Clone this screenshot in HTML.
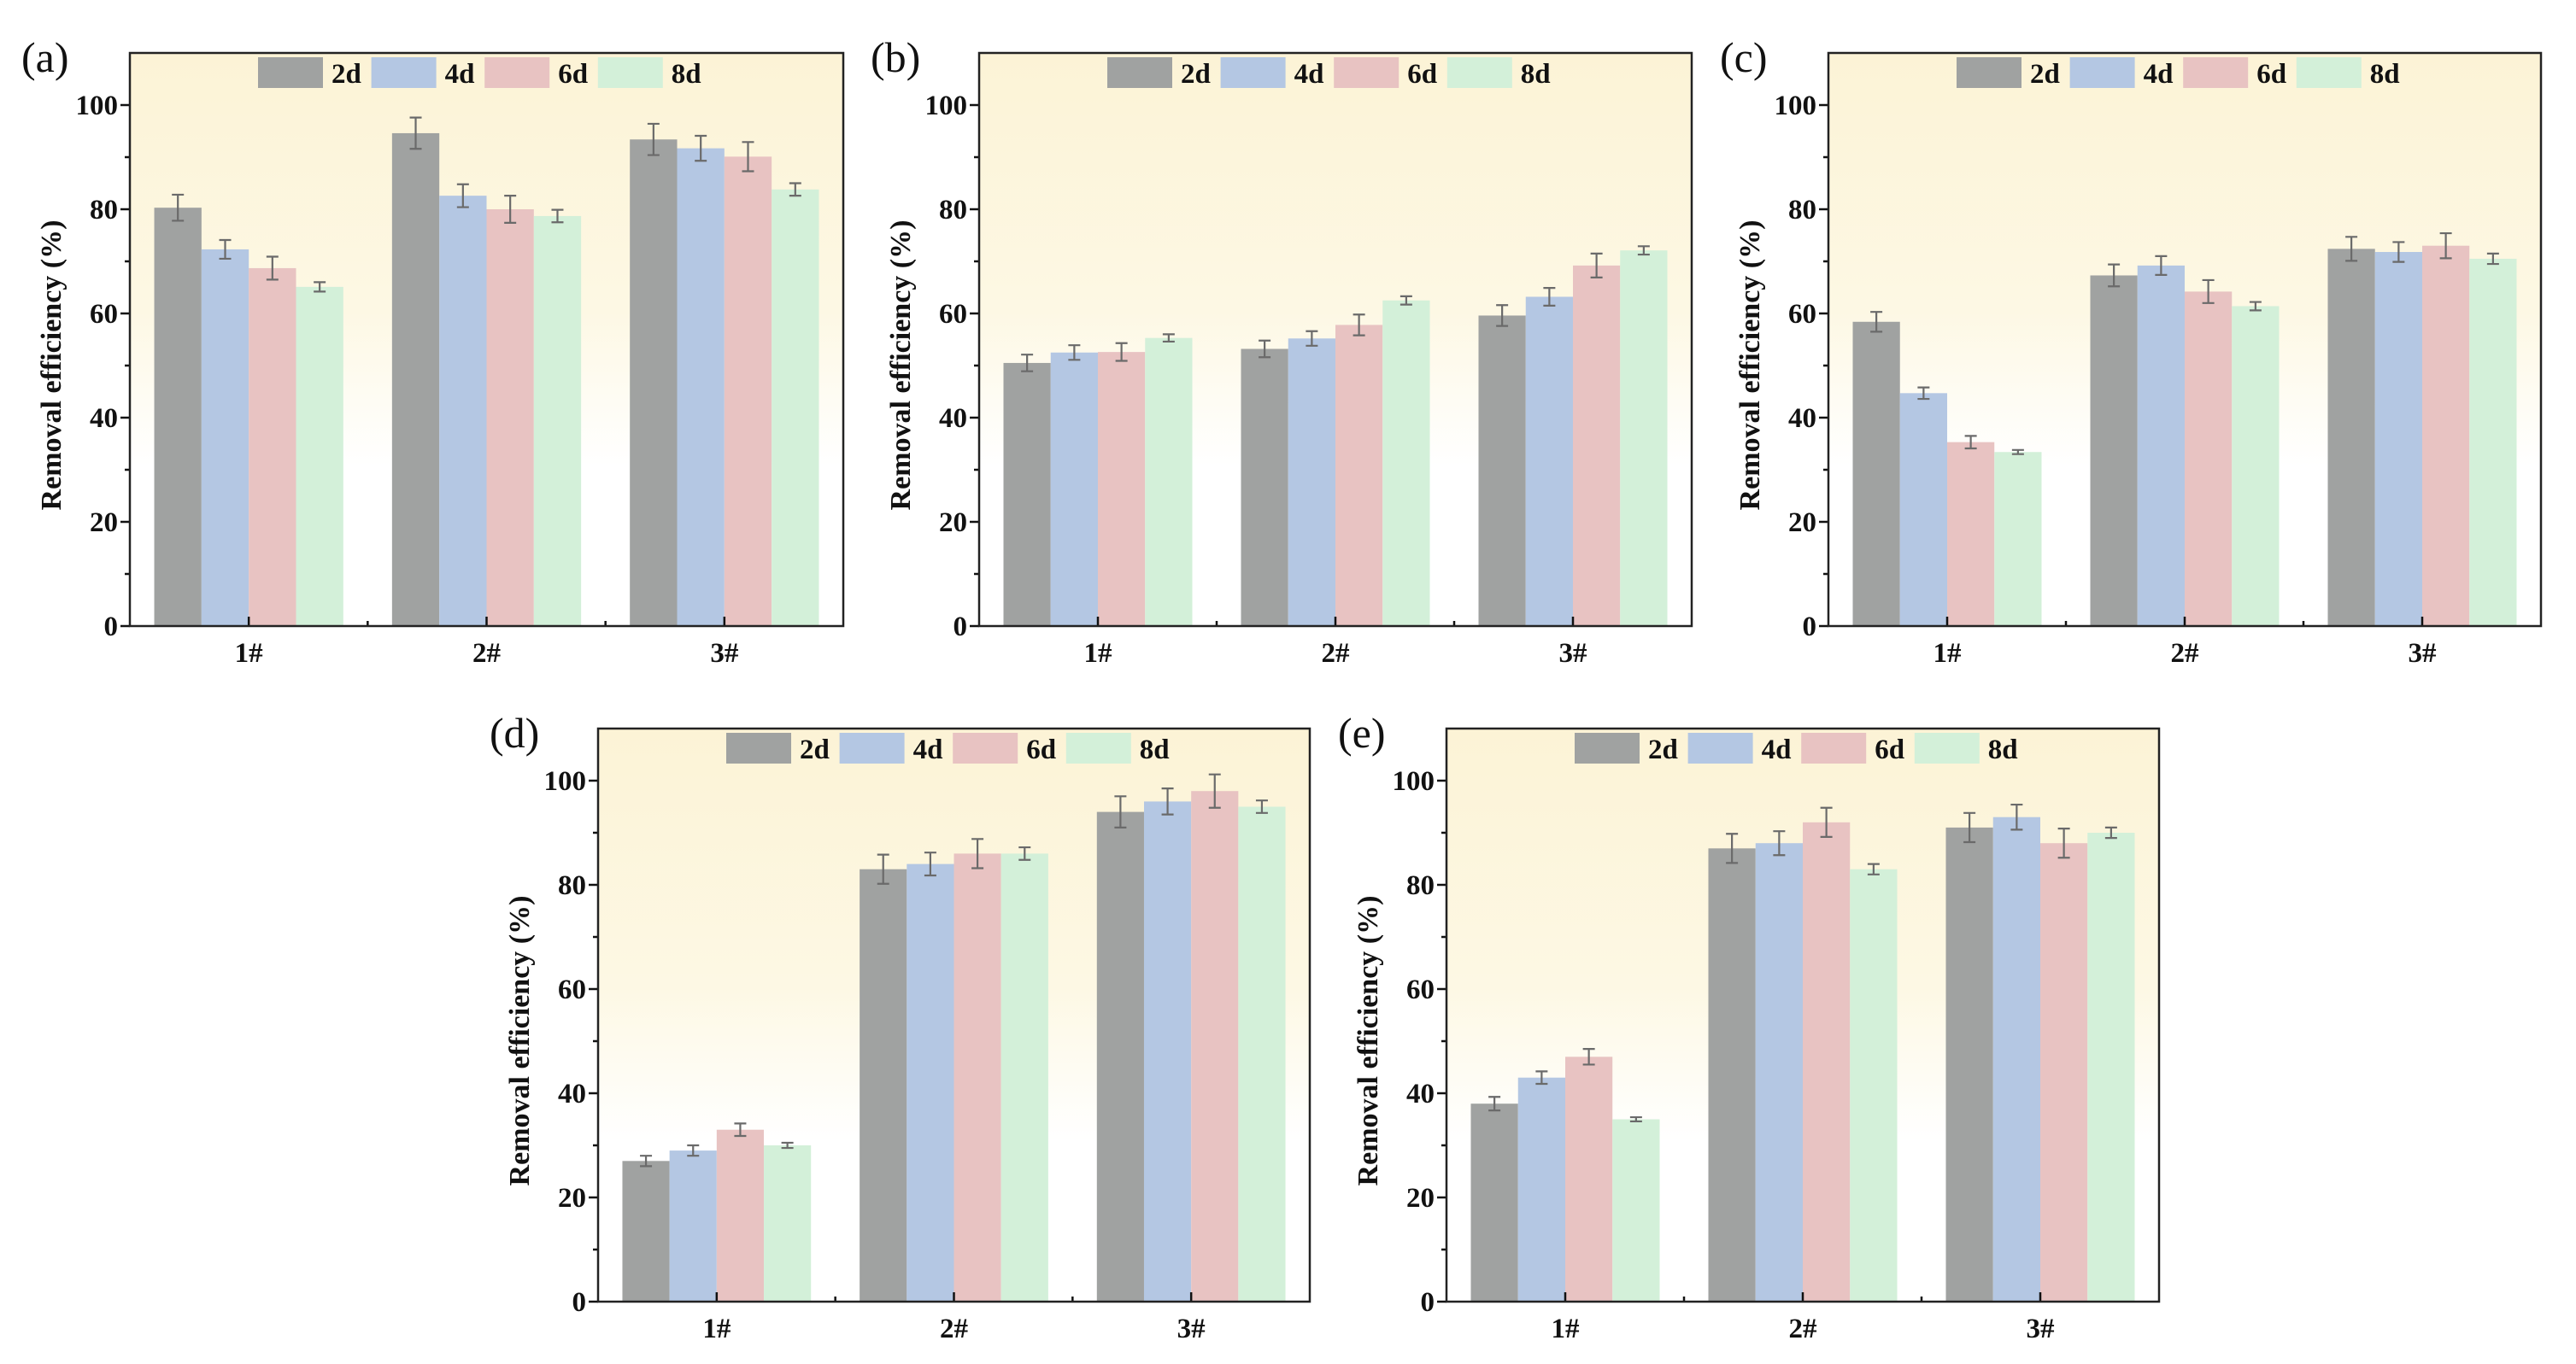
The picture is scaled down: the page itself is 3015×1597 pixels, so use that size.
<!DOCTYPE html>
<html><head><meta charset="utf-8">
<style>
html,body{margin:0;padding:0;background:#fff;}
svg{display:block;font-family:"Liberation Serif","Times New Roman",serif;}
</style></head>
<body>
<svg id="fig" width="3015" height="1597" viewBox="0 0 3015 1597" xmlns="http://www.w3.org/2000/svg">
<defs>
<linearGradient id="bg" x1="0" y1="0" x2="0" y2="1">
<stop offset="0" stop-color="#fcf3d6"/>
<stop offset="0.45" stop-color="#fdf8e4"/>
<stop offset="0.72" stop-color="#ffffff"/>
<stop offset="1" stop-color="#ffffff"/>
</linearGradient>
</defs>
</svg>
<script>
const categories = ["1#","2#","3#"];
const seriesNames = ["2d","4d","6d","8d"];
const seriesColors = ["#a0a2a1","#b4c7e3","#e8c3c2","#d3f0d9"];
const yTicks = [0,20,40,60,80,100];
const yMinorTicks = [10,30,50,70,90];
const panelLabels = ["(a)","(b)","(c)","(d)","(e)"];
// values[category][series]
const valuesA = [[80.3,72.3,68.7,65.1],[94.6,82.6,80.0,78.7],[93.4,91.7,90.1,83.8]];
const errorsA = [[2.5,1.8,2.2,0.9],[3.0,2.2,2.6,1.2],[3.0,2.4,2.8,1.2]];
const valuesB = [[50.5,52.5,52.6,55.3],[53.2,55.2,57.8,62.5],[59.6,63.2,69.2,72.1]];
const errorsB = [[1.6,1.4,1.7,0.7],[1.6,1.4,2.0,0.8],[2.0,1.7,2.3,0.8]];
const valuesC = [[58.4,44.7,35.3,33.4],[67.3,69.2,64.2,61.4],[72.4,71.8,73.0,70.5]];
const errorsC = [[1.9,1.1,1.2,0.4],[2.1,1.8,2.2,0.8],[2.3,1.9,2.4,1.0]];
const valuesD = [[27,29,33,30],[83,84,86,86],[94,96,98,95]];
const errorsD = [[1.0,1.0,1.2,0.5],[2.8,2.2,2.8,1.2],[3.0,2.5,3.2,1.2]];
const valuesE = [[38,43,47,35],[87,88,92,83],[91,93,88,90]];
const errorsE = [[1.3,1.2,1.5,0.4],[2.8,2.3,2.8,1.0],[2.8,2.4,2.8,1.0]];

const NS="http://www.w3.org/2000/svg";
const svg=document.getElementById('fig');
function mk(tag,attrs,parent){const e=document.createElementNS(NS,tag);for(const k in attrs)e.setAttribute(k,attrs[k]);(parent||svg).appendChild(e);return e;}

const frames=[
 {x:152,y:62,w:835,h:671,v:valuesA,e:errorsA,n:'a'},
 {x:1146,y:62,w:834,h:671,v:valuesB,e:errorsB,n:'b'},
 {x:2140,y:62,w:834,h:671,v:valuesC,e:errorsC,n:'c'},
 {x:700,y:853,w:833,h:671,v:valuesD,e:errorsD,n:'d'},
 {x:1693,y:853,w:834,h:671,v:valuesE,e:errorsE,n:'e'}
];
const YMAX=110;

frames.forEach((f,pi)=>{
  const g=mk('g',{});
  
  
  const yS=v=>f.y+f.h-v/YMAX*f.h;
  const xC=i=>f.x+f.w*(i+0.5)/categories.length;
  const groupW=f.w/categories.length*0.795;
  const barW=groupW/seriesNames.length;
  const bg=mk('rect',{x:f.x,y:f.y,width:f.w,height:f.h,fill:'url(#bg)'},g);
  
  
  categories.forEach((c,ci)=>{
    seriesNames.forEach((s,si)=>{
      const val=f.v[ci][si], err=f.e[ci][si];
      const x0=xC(ci)-groupW/2+si*barW;
      const r=mk('rect',{x:x0,y:yS(val),width:barW,height:yS(0)-yS(val),fill:seriesColors[si]},g);
      
      
      const cx=x0+barW/2;
      const eb=mk('path',{d:`M${cx-7},${yS(val+err)}H${cx+7}M${cx},${yS(val+err)}V${yS(val-err)}M${cx-7},${yS(val-err)}H${cx+7}`,stroke:'#6a6a6a','stroke-width':2.2,fill:'none'},g);
      
      
    });
    const t=mk('text',{x:xC(ci),y:f.y+f.h+42,'text-anchor':'middle','font-size':33,'font-weight':'bold',fill:'#111'},g);
    t.textContent=c;
    
    
    mk('line',{x1:xC(ci),x2:xC(ci),y1:f.y+f.h,y2:f.y+f.h-11,stroke:'#111','stroke-width':2.5},g);
    if(ci>0){mk('line',{x1:f.x+f.w*ci/3,x2:f.x+f.w*ci/3,y1:f.y+f.h,y2:f.y+f.h-6,stroke:'#111','stroke-width':2.5},g);}
  });
  yTicks.forEach(v=>{
    mk('line',{x1:f.x-11,x2:f.x,y1:yS(v),y2:yS(v),stroke:'#111','stroke-width':2.5},g);
    const t=mk('text',{x:f.x-14,y:yS(v)+11,'text-anchor':'end','font-size':33,'font-weight':'bold',fill:'#111'},g);
    t.textContent=v;
    
    
  });
  yMinorTicks.forEach(v=>{
    mk('line',{x1:f.x-6,x2:f.x,y1:yS(v),y2:yS(v),stroke:'#111','stroke-width':2.5},g);
  });
  const fr=mk('rect',{x:f.x,y:f.y,width:f.w,height:f.h,fill:'none',stroke:'#222','stroke-width':2.5},g);
  
  
  const yt=mk('text',{x:0,y:0,'text-anchor':'middle','font-size':34,'font-weight':'bold',fill:'#111',transform:`translate(${f.x-81},${f.y+f.h/2+30}) rotate(-90)`},g);
  yt.textContent='Removal efficiency (%)';
  
  
  const pl=mk('text',{x:f.x-127,y:f.y+22,'font-size':50,fill:'#111'},g);
  pl.textContent=panelLabels[pi];
  
  
  seriesNames.forEach((s,si)=>{
    const lx=f.x+150+si*132.6;
    const lg=mk('g',{},g);
    
    
    mk('rect',{x:lx,y:f.y+5,width:76,height:36,fill:seriesColors[si]},lg);
    const lt=mk('text',{x:lx+86,y:f.y+35,'font-size':33,'font-weight':'bold',fill:'#111'},lg);
    lt.textContent=s;
  });
});
</script>
</body></html>
